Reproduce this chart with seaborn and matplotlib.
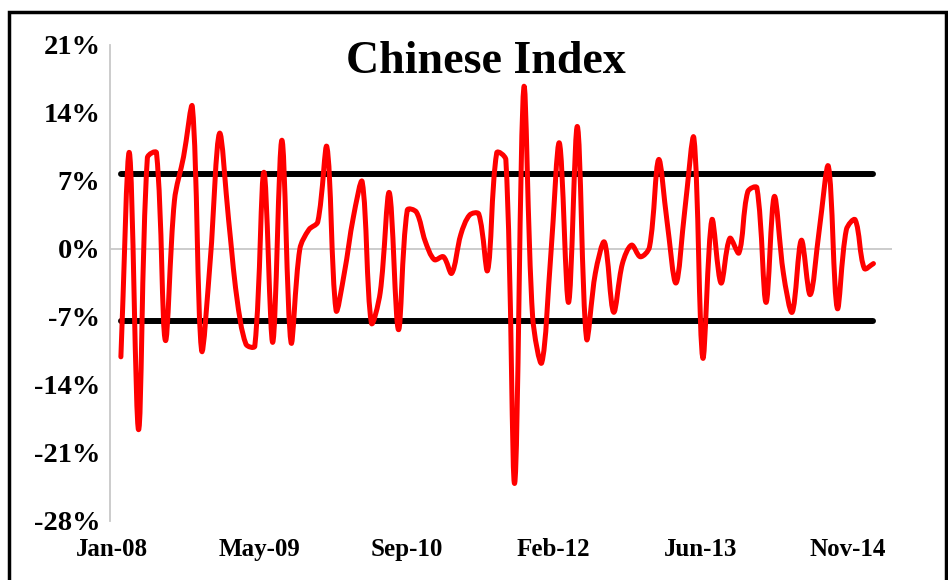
import numpy as np
import pandas as pd
import matplotlib
matplotlib.use("Agg")
import matplotlib.pyplot as plt
import matplotlib.dates as mdates
from matplotlib.path import Path
from matplotlib.patches import PathPatch, Rectangle
from matplotlib.ticker import FixedLocator, FuncFormatter
import seaborn as sns

# Monthly returns of the Chinese index (%), Jan-2008 .. Jan-2015
months = pd.period_range("2008-01", "2015-01", freq="M").to_timestamp(how="end").normalize()
returns = [
    -11.1, 9.9, -18.6, 9.4, 9.9, -9.4, 5.0, 9.5, 14.6, -10.4, -1.0, 11.9,
    3.0, -5.0, -9.8, -10.0, 7.9, -9.6, 11.2, -9.6, 0.0, 2.0, 2.8, 10.5,
    -6.3, -2.5, 3.3, 6.9, -7.6, -4.5, 5.8, -8.3, 4.0, 3.8, 0.8, -1.1,
    -0.8, -2.5, 1.5, 3.5, 3.6, -2.2, 9.9, 9.2, -24.1, 16.6, -7.0, -11.7,
    -0.5, 10.9, -5.5, 12.6, -9.2, -2.5, 0.7, -6.5, -1.5, 0.4, -0.8, 0.2,
    9.2, 3.0, -3.5, 4.0, 11.4, -11.2, 3.0, -3.5, 1.1, -0.4, 5.9, 6.3,
    -5.5, 5.4, -2.5, -6.5, 0.9, -4.7, 2.0, 8.5, -6.1, 2.0, 3.0, -2.0,
    -1.5,
]
upper_band = 7.72
lower_band = -7.42

title = "Chinese Index"
y_ticks = [-28, -21, -14, -7, 0, 7, 14, 21]
x_tick_step_days = 500

sns.set_theme(style="white")
plt.rcParams["font.family"] = ["Liberation Serif", "DejaVu Serif"]
plt.rcParams["font.weight"] = "bold"

fig = plt.figure(figsize=(9.48, 5.8), dpi=100)
ax = fig.add_axes([110 / 948, 1 - 521 / 580, (892 - 110) / 948, (521 - 45) / 580])

start = mdates.date2num(pd.Timestamp("2008-01-01"))
ax.set_xlim(start - 7, start + 2650)
ax.set_ylim(-28, 21)

df = pd.DataFrame({"date": months, "ret": returns})
xnum = mdates.date2num(df["date"])
y = np.asarray(returns, dtype=float)

# Band lines (mean +/- one standard deviation)
band = pd.DataFrame({
    "date": list(df["date"].iloc[[0, -1]]) * 2,
    "value": [upper_band, upper_band, lower_band, lower_band],
    "which": ["upper", "upper", "lower", "lower"],
})
sns.lineplot(data=band, x="date", y="value", units="which", estimator=None,
             color="black", linewidth=4.3, solid_capstyle="round", ax=ax,
             zorder=3, legend=False)

# Smoothed series: cubic Bezier segments through every monthly value,
# tangents scaled by neighbouring segment lengths measured on screen
pts = np.column_stack([xnum, y])
fig.canvas.draw()
scr = ax.transData.transform(pts)
ext = np.vstack([pts[0], pts, pts[-1]])
ext_s = np.vstack([scr[0], scr, scr[-1]])
tension = 1.0 / 3.0
verts = [tuple(pts[0])]
codes = [Path.MOVETO]
for i in range(len(pts) - 1):
    p0, p1, p2, p3 = ext[i], ext[i + 1], ext[i + 2], ext[i + 3]
    s0, s1, s2, s3 = ext_s[i], ext_s[i + 1], ext_s[i + 2], ext_s[i + 3]
    d01 = np.hypot(*(s1 - s0))
    d12 = np.hypot(*(s2 - s1))
    d23 = np.hypot(*(s3 - s2))
    f1 = d12 / (d01 + d12) if (d01 + d12) > 0 else 0.5
    f2 = d12 / (d12 + d23) if (d12 + d23) > 0 else 0.5
    c1 = p1 + (p2 - p0) * tension * f1
    c2 = p2 - (p3 - p1) * tension * f2
    verts += [tuple(c1), tuple(c2), tuple(p2)]
    codes += [Path.CURVE4] * 3
ax.add_patch(PathPatch(Path(verts, codes), facecolor="none", edgecolor="#ff0000",
                       linewidth=3.6, capstyle="round", joinstyle="round", zorder=4))

# Axes styling
ax.axhline(0, color="#c8c8c8", linewidth=1.3, zorder=1)
for s in ["top", "right", "bottom"]:
    ax.spines[s].set_visible(False)
ax.spines["left"].set_color("#c8c8c8")
ax.spines["left"].set_linewidth(1.3)

ax.yaxis.set_major_locator(FixedLocator(y_ticks))
ax.yaxis.set_major_formatter(FuncFormatter(lambda v, p: f"{v:.0f}%"))
xt = [start + x_tick_step_days * i for i in range(6)]
ax.xaxis.set_major_locator(FixedLocator(xt))
ax.xaxis.set_major_formatter(FuncFormatter(lambda v, p: mdates.num2date(v).strftime("%b-%y")))
ax.tick_params(axis="y", length=0, pad=7, labelsize=20.5, labelcolor="black")
ax.tick_params(axis="x", length=0, pad=12, labelsize=18, labelcolor="black")
for lab in ax.get_xticklabels() + ax.get_yticklabels():
    lab.set_fontweight("bold")
ax.set_xlabel("")
ax.set_ylabel("")
ax.grid(False)

fig.text(486 / 948, 1 - 62 / 580, title, ha="center", va="center",
         fontsize=33, fontweight="bold", color="black")

# Outer chart frame
fig.patches.append(Rectangle((9 / 948, -0.05), (946 - 9) / 948, 1.05 - 12 / 580,
                             transform=fig.transFigure, fill=False,
                             edgecolor="black", linewidth=2.5, zorder=10))

fig.savefig("out.png", dpi=100)
